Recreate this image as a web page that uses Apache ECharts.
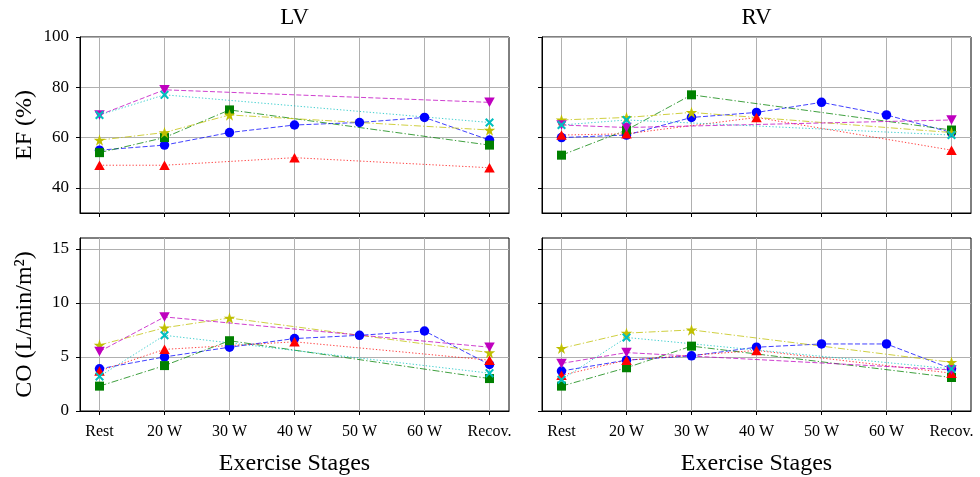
<!DOCTYPE html>
<html>
<head>
<meta charset="utf-8">
<script src="https://cdn.jsdelivr.net/npm/echarts@6/dist/echarts.min.js"></script>
<style>html,body{margin:0;padding:0;background:#fff;}#c{width:980px;height:477px;}</style>
</head>
<body>
<div id="c"></div>
<script>
const categories = ['Rest', '20 W', '30 W', '40 W', '50 W', '60 W', 'Recov.'];
const panelTitles = ['LV', 'RV'];
const efTicks = [40, 60, 80, 100];
const coTicks = [0, 5, 10, 15];

// LV EF (%)
const lvEF_blue    = [55, 57, 62, 65, 66, 68, 59];
const lvEF_green   = [54, 60, 71, null, null, null, 57];
const lvEF_red     = [49, 49, null, 52, null, null, 48];
const lvEF_yellow  = [59, 62, 69, null, null, null, 63];
const lvEF_magenta = [69, 79, null, null, null, null, 74];
const lvEF_cyan    = [69, 77, null, null, null, null, 66];
// RV EF (%)
const rvEF_blue    = [60, 61, 68, 70, 74, 69, 62];
const rvEF_green   = [53, 63, 77, null, null, null, 63];
const rvEF_red     = [61, 61.5, null, 68, null, null, 55];
const rvEF_yellow  = [67, 68, 70, null, null, null, 62];
const rvEF_magenta = [65, 64, null, null, null, null, 67];
const rvEF_cyan    = [65, 67, null, null, null, null, 61];
// LV CO (L/min/m2)
const lvCO_blue    = [3.9, 5.0, 5.9, 6.7, 7.0, 7.4, 4.3];
const lvCO_green   = [2.3, 4.2, 6.5, null, null, null, 3.0];
const lvCO_red     = [3.7, 5.7, null, 6.4, null, null, 4.7];
const lvCO_yellow  = [6.1, 7.7, 8.6, null, null, null, 5.4];
const lvCO_magenta = [5.5, 8.7, null, null, null, null, 5.9];
const lvCO_cyan    = [3.2, 7.0, null, null, null, null, 3.5];
// RV CO (L/min/m2)
const rvCO_blue    = [3.7, 4.7, 5.1, 5.9, 6.2, 6.2, 3.9];
const rvCO_green   = [2.3, 4.0, 6.0, null, null, null, 3.1];
const rvCO_red     = [3.3, 4.7, null, 5.6, null, null, 3.5];
const rvCO_yellow  = [5.8, 7.2, 7.5, null, null, null, 4.5];
const rvCO_magenta = [4.4, 5.4, null, null, null, null, 3.8];
const rvCO_cyan    = [2.9, 6.8, null, null, null, null, 3.9];

const FONT = 'Liberation Serif';

function starPath() {
  let pts = [];
  for (let i = 0; i < 10; i++) {
    const r = i % 2 === 0 ? 10 : 3.82;
    const a = -Math.PI / 2 + i * Math.PI / 5;
    pts.push((10 + r * Math.cos(a)).toFixed(2) + ',' + (10 + r * Math.sin(a)).toFixed(2));
  }
  return 'path://M' + pts.join(' L') + ' Z';
}
const xPath = 'path://M0,1.6 L1.6,0 L5,3.4 L8.4,0 L10,1.6 L6.6,5 L10,8.4 L8.4,10 L5,6.6 L1.6,10 L0,8.4 L3.4,5 Z';
const downTri = 'path://M0,0 L10,0 L5,9 Z';

const styles = {
  blue:    {color: '#0000ff', symbol: 'circle', size: 9.5, dash: [5, 2.2]},
  green:   {color: '#008000', symbol: 'rect', size: 9, dash: [7, 2.2, 1.3, 2.2]},
  red:     {color: '#ff0000', symbol: 'triangle', size: [10.5, 9.5], dash: [1.3, 2]},
  yellow:  {color: '#bfbf00', symbol: starPath(), size: 11.5, dash: [7, 2.2, 1.3, 2.2]},
  magenta: {color: '#bf00bf', symbol: downTri, size: [10.5, 9.5], dash: [5, 2.2]},
  cyan:    {color: '#00bfbf', symbol: xPath, size: 9, dash: [1.3, 2]}
};

const panels = [
  {grid: 0, sets: {blue: lvEF_blue, green: lvEF_green, red: lvEF_red, yellow: lvEF_yellow, magenta: lvEF_magenta, cyan: lvEF_cyan}},
  {grid: 1, sets: {blue: rvEF_blue, green: rvEF_green, red: rvEF_red, yellow: rvEF_yellow, magenta: rvEF_magenta, cyan: rvEF_cyan}},
  {grid: 2, sets: {blue: lvCO_blue, green: lvCO_green, red: lvCO_red, yellow: lvCO_yellow, magenta: lvCO_magenta, cyan: lvCO_cyan}},
  {grid: 3, sets: {blue: rvCO_blue, green: rvCO_green, red: rvCO_red, yellow: rvCO_yellow, magenta: rvCO_magenta, cyan: rvCO_cyan}}
];

const series = [];
panels.forEach(p => {
  Object.keys(p.sets).forEach(k => {
    const st = styles[k];
    const data = [];
    p.sets[k].forEach((v, i) => { if (v !== null) data.push([i, v]); });
    series.push({
      type: 'line', xAxisIndex: p.grid, yAxisIndex: p.grid, data: data,
      symbol: st.symbol, symbolSize: st.size, showSymbol: true,
      itemStyle: {color: st.color, opacity: 1},
      lineStyle: {color: st.color, width: 1, type: st.dash, opacity: 0.75},
      animation: false, silent: true
    });
  });
});

const grids = [
  {left: 80, top: 37, width: 429, height: 176},
  {left: 542, top: 37, width: 429, height: 176},
  {left: 80, top: 238, width: 429, height: 177},
  {left: 542, top: 238, width: 429, height: 177}
].map(g => Object.assign({show: true, borderColor: '#000', borderWidth: 1, backgroundColor: 'transparent', containLabel: false}, g));

const gridLine = {show: true, lineStyle: {color: '#b0b0b0', width: 1}};
const xAxes = grids.map((g, i) => ({
  type: 'value', gridIndex: i, min: -0.3, max: 6.3, minInterval: 1, maxInterval: 1,
  axisLine: {show: true, onZero: false, lineStyle: {color: '#000', width: 1}},
  axisTick: {show: true, inside: false, length: 4, lineStyle: {color: '#000'}, customValues: [0,1,2,3,4,5,6]},
  axisLabel: {show: i >= 2, fontFamily: FONT, fontSize: 16, color: '#000', margin: 13,
    customValues: [0,1,2,3,4,5,6],
    formatter: v => Number.isInteger(v) && v >= 0 && v < categories.length ? categories[v] : ''},
  splitLine: gridLine,
  name: i >= 2 ? 'Exercise Stages' : '', nameLocation: 'middle', nameGap: 41,
  nameTextStyle: {fontFamily: FONT, fontSize: 24, color: '#000'}
}));

const yAxes = grids.map((g, i) => {
  const isEF = i < 2;
  const ticks = isEF ? efTicks : coTicks;
  return {
    type: 'value', gridIndex: i,
    min: isEF ? 30 : 0, max: isEF ? 100 : 16,
    minInterval: isEF ? 20 : 5, maxInterval: isEF ? 20 : 5,
    axisLine: {show: true, onZero: false, lineStyle: {color: '#000', width: 1}},
    axisTick: {show: true, inside: false, length: 4, lineStyle: {color: '#000'}, customValues: ticks},
    axisLabel: {show: i % 2 === 0, fontFamily: FONT, fontSize: 17, color: '#000', margin: 11,
      customValues: ticks,
      formatter: v => ticks.indexOf(v) >= 0 ? String(v) : ''},
    splitLine: gridLine,
    name: i === 0 ? 'EF (%)' : (i === 2 ? 'CO (L/min/m²)' : ''),
    nameLocation: 'middle', nameGap: 43,
    nameTextStyle: {fontFamily: FONT, fontSize: 24, color: '#000'}
  };
});

const chart = echarts.init(document.getElementById('c'), null, {renderer: 'canvas'});
chart.setOption({
  backgroundColor: '#fff',
  animation: false,
  grid: grids,
  xAxis: xAxes,
  yAxis: yAxes,
  series: series,
  graphic: [
    {type: 'text', x: 294.5, y: 18, style: {text: panelTitles[0], fontFamily: FONT, fontSize: 23, fill: '#000', align: 'center', verticalAlign: 'middle'}},
    {type: 'text', x: 756.5, y: 18, style: {text: panelTitles[1], fontFamily: FONT, fontSize: 23, fill: '#000', align: 'center', verticalAlign: 'middle'}}
  ]
});
</script>
</body>
</html>
